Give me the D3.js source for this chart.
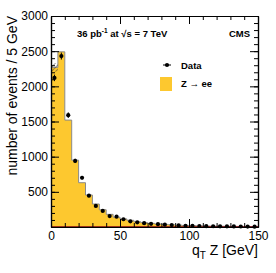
<!DOCTYPE html>
<html>
<head>
<meta charset="utf-8">
<script src="https://cdn.jsdelivr.net/npm/d3@7"></script>
<style>
  body { margin: 0; background: #fff; }
  svg { display: block; font-family: "Liberation Sans", Arial, sans-serif; }
</style>
</head>
<body>
<svg width="276" height="273"></svg>
<script>
// 5 GeV bins of qT(Z)
const binEdges = d3.range(0, 155, 5);
const mcValues = [2270, 2490, 1520, 950, 630, 455, 327, 245, 180, 140, 115, 95, 75, 62, 52, 44, 37, 31, 26, 22, 19, 16, 14, 12, 11, 10, 9, 8, 7, 6];
const dataValues = [2120, 2430, 1590, 940, 700, 445, 300, 228, 156, 147, 110, 80, 67, 55, 45, 40, 33, 28, 22, 18, 16, 14, 12, 11, 10, 9, 8, 7, 6, 5];
const mcUncertainty = [60, 0, 0, 0, 0, 0, 0, 0, 0, 0, 0, 0, 0, 0, 0, 0, 0, 0, 0, 0, 0, 0, 0, 0, 0, 0, 0, 0, 0, 0];
const yTicks = [500, 1000, 1500, 2000, 2500, 3000];
const xTicks = [0, 50, 100, 150];

const svg = d3.select('svg');
const margin = { left: 51, right: 18, top: 16, bottom: 46 };
const width = +svg.attr('width');
const height = +svg.attr('height');
const innerWidth = width - margin.left - margin.right;
const innerHeight = height - margin.top - margin.bottom;

const xScale = d3.scaleLinear().domain([0, 150]).range([0, innerWidth]);
const yScale = d3.scaleLinear().domain([0, 3000]).range([innerHeight, 0]);

const g = svg.append('g').attr('transform', `translate(${margin.left}, ${margin.top})`);

// hatch pattern for MC uncertainty
const defs = svg.append('defs');
defs.append('pattern')
  .attr('id', 'hatch')
  .attr('patternUnits', 'userSpaceOnUse')
  .attr('width', 3).attr('height', 3)
  .attr('patternTransform', 'rotate(45)')
  .append('line')
  .attr('x1', 0).attr('y1', 0).attr('x2', 0).attr('y2', 3)
  .attr('stroke', '#333').attr('stroke-width', 1);

const bins = mcValues.map((v, i) => ({ x0: binEdges[i], x1: binEdges[i + 1], mc: v, data: dataValues[i], unc: mcUncertainty[i] }));

// MC histogram, filled
const area = d3.area()
  .curve(d3.curveStepAfter)
  .x((d) => xScale(d.x))
  .y0(yScale(0))
  .y1((d) => yScale(d.y));
const steps = bins.map((b) => ({ x: b.x0, y: b.mc }));
steps.push({ x: 150, y: mcValues[mcValues.length - 1] });

g.append('path')
  .datum(steps)
  .attr('d', area)
  .attr('fill', '#fdc82f');

g.append('path')
  .datum(steps)
  .attr('d', d3.line().curve(d3.curveStepAfter).x((d) => xScale(d.x)).y((d) => yScale(d.y)))
  .attr('fill', 'none')
  .attr('stroke', '#8a8a8a')
  .attr('stroke-width', 1);

// uncertainty band
g.selectAll('rect.unc')
  .data(bins.filter((b) => b.unc > 0))
  .enter()
  .append('rect')
  .attr('class', 'unc')
  .attr('x', (d) => xScale(d.x0))
  .attr('width', (d) => xScale(d.x1) - xScale(d.x0))
  .attr('y', (d) => yScale(d.mc + d.unc))
  .attr('height', (d) => yScale(d.mc - d.unc) - yScale(d.mc + d.unc))
  .attr('fill', 'url(#hatch)');

// baseline
g.append('line')
  .attr('x1', 0).attr('x2', innerWidth)
  .attr('y1', yScale(0)).attr('y2', yScale(0))
  .attr('stroke', '#7a0010').attr('stroke-width', 1.5);

// data points
const pts = g.selectAll('g.pt').data(bins).enter().append('g').attr('class', 'pt');
pts.append('line')
  .attr('x1', (d) => xScale((d.x0 + d.x1) / 2))
  .attr('x2', (d) => xScale((d.x0 + d.x1) / 2))
  .attr('y1', (d) => yScale(d.data + Math.sqrt(d.data)))
  .attr('y2', (d) => yScale(d.data - Math.sqrt(d.data)))
  .attr('stroke', '#000');
pts.append('circle')
  .attr('cx', (d) => xScale((d.x0 + d.x1) / 2))
  .attr('cy', (d) => yScale(d.data))
  .attr('r', 2.1)
  .attr('fill', '#000');

// axes, ticks pointing inward like ROOT
const yMinor = d3.range(100, 3000, 100);
const xMinor = d3.range(10, 150, 10);

g.append('g').call(d3.axisRight(yScale).tickValues(yMinor).tickSize(4).tickSizeOuter(0));
g.append('g').attr('transform', `translate(${innerWidth},0)`)
  .call(d3.axisLeft(yScale).tickValues(yMinor).tickSize(4).tickSizeOuter(0));
g.append('g').attr('transform', `translate(0,${innerHeight})`)
  .call(d3.axisTop(xScale).tickValues(xMinor).tickSize(4).tickSizeOuter(0));
g.append('g')
  .call(d3.axisBottom(xScale).tickValues(xMinor).tickSize(4).tickSizeOuter(0));
g.append('g').attr('transform', `translate(${innerWidth},0)`)
  .call(d3.axisRight(yScale).tickValues(yTicks).tickSize(-8).tickSizeOuter(0));
g.append('g')
  .call(d3.axisTop(xScale).tickValues(xTicks).tickSize(-8).tickSizeOuter(0));
// no labels on the minor / mirrored axes
g.selectAll('.tick text').remove();

const fmt = d3.format('d');
g.append('g').attr('class', 'yaxis')
  .call(d3.axisLeft(yScale).tickValues(yTicks).tickFormat(fmt).tickSize(-8).tickSizeOuter(0));
g.append('g').attr('class', 'xaxis').attr('transform', `translate(0,${innerHeight})`)
  .call(d3.axisBottom(xScale).tickValues(xTicks).tickFormat(fmt).tickSize(-8).tickSizeOuter(0));

g.selectAll('.domain').attr('stroke', '#000').attr('stroke-width', 1.2);
g.selectAll('.tick line').attr('stroke', '#000');
g.selectAll('.yaxis text').attr('font-size', 12).attr('fill', '#000').attr('x', -3);
g.selectAll('.xaxis text').attr('font-size', 12).attr('fill', '#000').attr('y', 3).attr('dy', '0.85em');

// axis titles
svg.append('text')
  .attr('transform', `translate(17, ${margin.top}) rotate(-90)`)
  .attr('text-anchor', 'end')
  .attr('font-size', 14)
  .text('number of events / 5 GeV');

const xt = svg.append('text')
  .attr('x', margin.left + innerWidth)
  .attr('y', 255)
  .attr('text-anchor', 'end')
  .attr('font-size', 14);
xt.append('tspan').text('q');
xt.append('tspan').attr('font-size', 10).attr('dy', 4).text('T');
xt.append('tspan').attr('dy', -4).text(' Z [GeV]');

// header texts
const head = svg.append('text').attr('x', 77).attr('y', 37)
  .attr('font-size', 9.5).attr('font-weight', 'bold');
head.append('tspan').text('36 pb');
head.append('tspan').attr('font-size', 6.5).attr('dy', -4).text('-1');
head.append('tspan').attr('dy', 4).text('  at  \u221As = 7 TeV');

svg.append('text').attr('x', 250).attr('y', 37)
  .attr('text-anchor', 'end')
  .attr('font-size', 9.5).attr('font-weight', 'bold')
  .text('CMS');

// legend
const lg = svg.append('g').attr('transform', 'translate(167, 65)');
lg.append('line').attr('x1', -4).attr('x2', 4).attr('y1', 0).attr('y2', 0).attr('stroke', '#000');
lg.append('circle').attr('r', 2.1).attr('fill', '#000');
lg.append('text').attr('x', 14).attr('y', 3.5).attr('font-size', 9.5).attr('font-weight', 'bold').text('Data');
lg.append('rect').attr('x', -7).attr('y', 12).attr('width', 12).attr('height', 14).attr('fill', '#fdc82f');
lg.append('text').attr('x', 14).attr('y', 22).attr('font-size', 9.5).attr('font-weight', 'bold').text('Z \u2192 ee');
</script>
</body>
</html>
